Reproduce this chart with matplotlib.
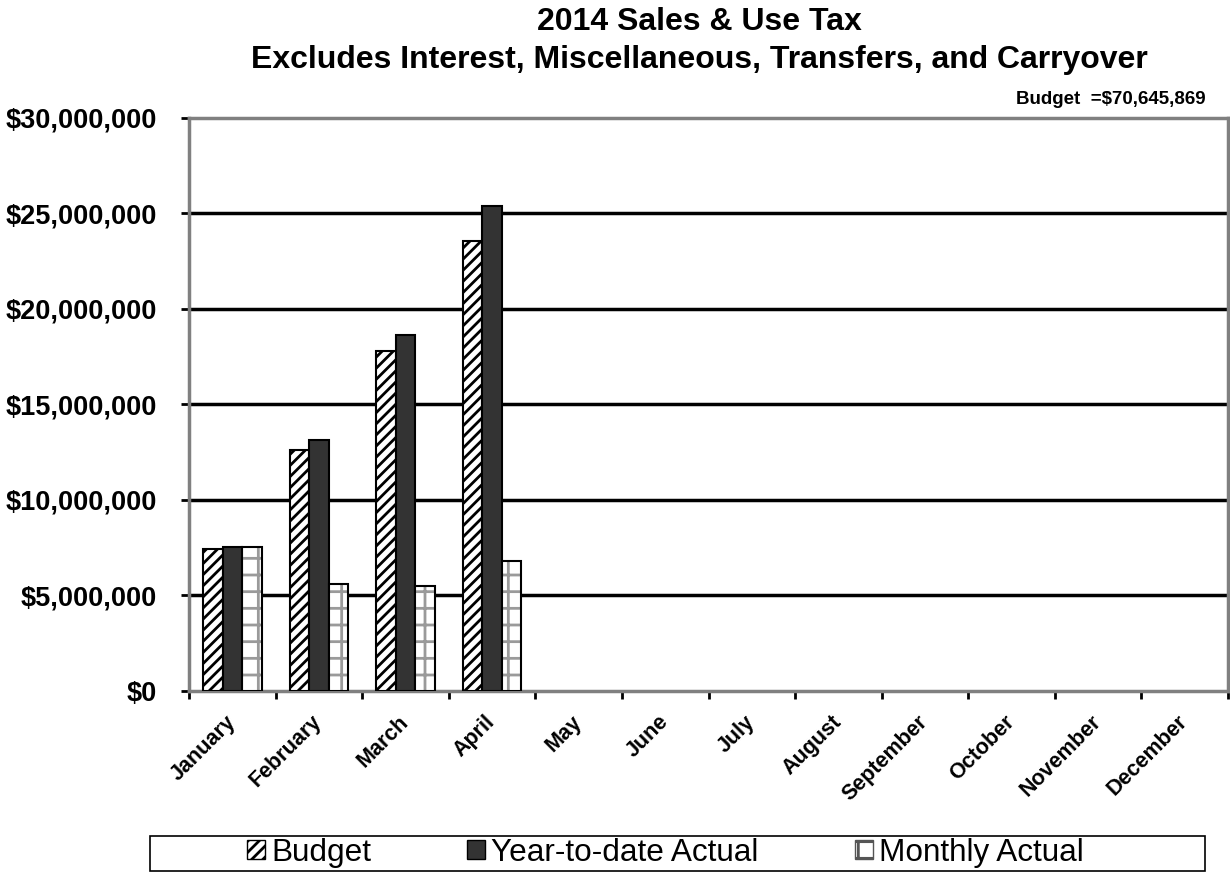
"""2014 sales & use tax chart: budget vs actuals by month."""

import matplotlib.pyplot as plt
import numpy as np
from matplotlib.patches import Patch, Rectangle
from matplotlib.ticker import FuncFormatter

plt.rcParams["font.family"] = ["Liberation Sans", "DejaVu Sans"]
plt.rcParams["hatch.linewidth"] = 2.0

months = ["January", "February", "March", "April", "May", "June", "July",
          "August", "September", "October", "November", "December"]
budget = [7.44e6, 12.59e6, 17.82e6, 23.58e6]
ytd_actual = [7.55e6, 13.15e6, 18.62e6, 25.37e6]
monthly_actual = [7.55e6, 5.60e6, 5.52e6, 6.78e6]
budget_note = "Budget  =$70,645,869"

fig = plt.figure(figsize=(12.3, 8.73), dpi=100)
ax = fig.add_axes([0.1537, 0.2085, 0.8447, 0.6564])

w = 0.226
x = np.arange(len(budget))
ax.bar(x - w, budget, w, color="white", edgecolor="black", hatch="///", linewidth=1.5, zorder=3)
ax.bar(x, ytd_actual, w, color="#333333", edgecolor="black", linewidth=1.5, zorder=3)
# dotted grid fill in grey, then a black outline on top
ax.bar(x + w, monthly_actual, w, color="white", edgecolor="#9a9a9a", hatch="+", linewidth=0, zorder=3)
ax.bar(x + w, monthly_actual, w, fill=False, edgecolor="black", linewidth=1.5, zorder=4)

ax.set_xlim(-0.5, len(months) - 0.5)
ax.set_ylim(0, 30e6)
ax.set_yticks(np.arange(0, 30e6 + 1, 5e6))
ax.yaxis.set_major_formatter(FuncFormatter(lambda v, _: f"${v:,.0f}"))
for lbl in ax.get_yticklabels():
    lbl.set_fontweight("bold")
    lbl.set_fontsize(19.5)
ax.tick_params(axis="y", length=6, width=2, color="black", pad=17)

for yv in np.arange(5e6, 30e6, 5e6):
    ax.axhline(yv, color="black", linewidth=2.5, zorder=1)

ax.set_xticks(np.arange(len(months) + 1) - 0.5)
ax.set_xticklabels([])
ax.tick_params(axis="x", which="major", length=6, width=2, color="black")
ax.set_xticks(np.arange(len(months)), minor=True)
ax.set_xticklabels(months, minor=True, rotation=45, ha="right", va="center",
                   rotation_mode="anchor", fontsize=15.5, fontweight="bold")
ax.tick_params(axis="x", which="minor", length=0, pad=20)

for side in ["left", "bottom", "top", "right"]:
    ax.spines[side].set_color("#808080")
    ax.spines[side].set_linewidth(2.5)

fig.text(0.569, 0.975, "2014 Sales & Use Tax", ha="center", va="center",
         fontsize=23, fontweight="bold")
fig.text(0.569, 0.931, "Excludes Interest, Miscellaneous, Transfers, and Carryover",
         ha="center", va="center", fontsize=23, fontweight="bold")
fig.text(0.98, 0.886, budget_note, ha="right", va="center", fontsize=13.5, fontweight="bold")

handles = [
    Patch(facecolor="white", edgecolor="black", hatch="///", label="Budget"),
    Patch(facecolor="#333333", edgecolor="black", label="Year-to-date Actual"),
    Patch(facecolor="white", edgecolor="#555555", hatch="+", label="Monthly Actual"),
]
leg = fig.legend(handles=handles, loc="center", ncol=3, frameon=False,
                 bbox_to_anchor=(0.541, 0.023), fontsize=22.7,
                 handlelength=0.57, handleheight=0.57, handletextpad=0.19,
                 borderaxespad=0, borderpad=0, columnspacing=3.05)
fig.patches.append(Rectangle((0.122, 0.0023), 0.858, 0.040, transform=fig.transFigure,
                             fill=False, edgecolor="black", linewidth=1.2))

fig.savefig("out.png", dpi=100)
